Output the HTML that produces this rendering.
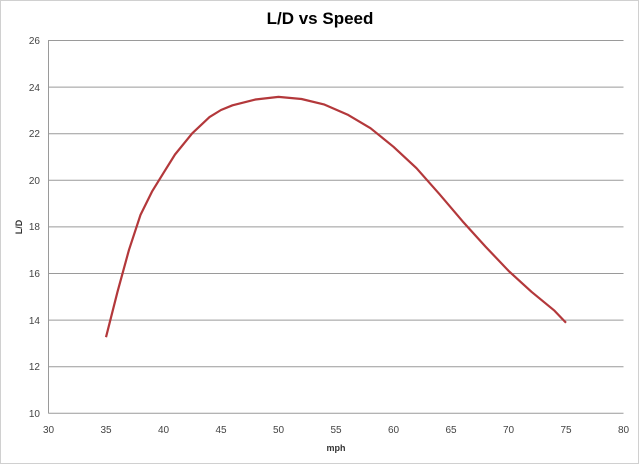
<!DOCTYPE html>
<html><head><style>
html,body{margin:0;padding:0;background:#fff;}
svg{display:block;font-family:"Liberation Sans",sans-serif;}
</style></head><body>
<svg width="640" height="465" viewBox="0 0 640 465" xmlns="http://www.w3.org/2000/svg">
<rect x="0.5" y="0.5" width="638" height="463" fill="#fff" stroke="#d0d0d0"/>
<text x="320" y="24" text-anchor="middle" font-size="17" font-weight="bold" fill="#000">L/D vs Speed</text>
<g stroke="#9a9a9a" stroke-width="1">
<line x1="48.5" y1="40.5" x2="623.5" y2="40.5"/>
<line x1="48.5" y1="87.1" x2="623.5" y2="87.1"/>
<line x1="48.5" y1="133.7" x2="623.5" y2="133.7"/>
<line x1="48.5" y1="180.3" x2="623.5" y2="180.3"/>
<line x1="48.5" y1="226.9" x2="623.5" y2="226.9"/>
<line x1="48.5" y1="273.5" x2="623.5" y2="273.5"/>
<line x1="48.5" y1="320.1" x2="623.5" y2="320.1"/>
<line x1="48.5" y1="366.7" x2="623.5" y2="366.7"/>
<line x1="48.5" y1="413.3" x2="623.5" y2="413.3"/>
<line x1="48.5" y1="40" x2="48.5" y2="413.5"/>
</g>
<g font-size="10" fill="#444" text-anchor="end">
<text x="40" y="44">26</text><text x="40" y="91">24</text><text x="40" y="137">22</text>
<text x="40" y="184">20</text><text x="40" y="230">18</text><text x="40" y="277">16</text>
<text x="40" y="324">14</text><text x="40" y="370">12</text><text x="40" y="417">10</text>
</g>
<g font-size="10" fill="#444" text-anchor="middle">
<text x="48.5" y="433">30</text><text x="106" y="433">35</text><text x="163.5" y="433">40</text>
<text x="221" y="433">45</text><text x="278.5" y="433">50</text><text x="336" y="433">55</text>
<text x="393.5" y="433">60</text><text x="451" y="433">65</text><text x="508.5" y="433">70</text>
<text x="566" y="433">75</text><text x="623.5" y="433">80</text>
</g>
<text x="336" y="451" text-anchor="middle" font-size="9" font-weight="bold" fill="#333">mph</text>
<text transform="translate(22,227) rotate(-90)" text-anchor="middle" font-size="9" font-weight="bold" fill="#333">L/D</text>
<polyline fill="none" stroke="#b3383b" stroke-width="2.2" stroke-linejoin="round" points="106,337.2 117.5,291.8 129,249.8 140.5,214.9 152,191.6 163.5,172.9 175,154.5 192.25,133.3 209.5,117.1 221,110 232.5,105.3 255.5,99.5 278.5,96.9 301.5,99 324.5,104.6 347.5,114.6 370.5,128.2 393.5,146.8 416.5,168.2 439.5,194.2 462.5,221.2 485.5,246.6 508.5,270.8 531.5,291.8 554.5,310.7 566,322.8"/>
</svg>
</body></html>
